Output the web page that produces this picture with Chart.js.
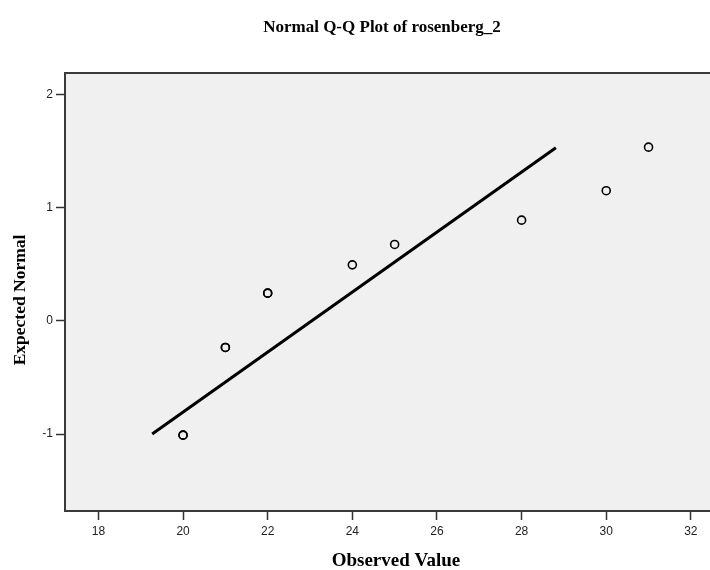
<!DOCTYPE html>
<html>
<head>
<meta charset="utf-8">
<script src="https://cdn.jsdelivr.net/npm/chart.js@4/dist/chart.umd.min.js"></script>
<style>
  html, body { margin: 0; padding: 0; background: #ffffff; }
  #wrap { width: 710px; height: 570px; }
</style>
</head>
<body>
<div id="wrap"><canvas id="c" width="710" height="570"></canvas></div>
<script>
// ---- data ----
const chartTitle = "Normal Q-Q Plot of rosenberg_2";
const xTitle = "Observed Value";
const yTitle = "Expected Normal";
const observed = [20, 20, 21, 21, 22, 22, 24, 25, 28, 30, 31];
const expectedNormal = [-1.01, -1.01, -0.235, -0.235, 0.245, 0.245, 0.495, 0.675, 0.89, 1.15, 1.535];
const lineX = [19.27, 28.81];
const lineY = [-1.0, 1.53];
const xTicks = [18, 20, 22, 24, 26, 28, 30, 32];
const yTicks = [-1, 0, 1, 2];
const xRange = [17.21, 32.32];
const yRange = [-1.68, 2.19];

const pointsData = observed.map((v, i) => ({ x: v, y: expectedNormal[i] }));
const lineData = lineX.map((v, i) => ({ x: v, y: lineY[i] }));

const frame = {
  id: 'frame',
  beforeDatasetsDraw(chart) {
    const { ctx, chartArea: a } = chart;
    ctx.save();
    ctx.fillStyle = '#f0f0f0';
    ctx.fillRect(a.left, a.top, chart.width - a.left + 5, a.bottom - a.top);
    ctx.restore();
  },
  afterDraw(chart) {
    const { ctx, chartArea: a } = chart;
    ctx.save();
    ctx.strokeStyle = '#3a3a3a';
    ctx.lineWidth = 2;
    ctx.strokeRect(a.left, a.top, chart.width - a.left + 20, a.bottom - a.top);
    ctx.fillStyle = '#000';
    ctx.textAlign = 'center';
    ctx.textBaseline = 'middle';
    ctx.font = 'bold 17px "Liberation Serif"';
    ctx.fillText(chartTitle, 382, 28);
    ctx.font = 'bold 19px "Liberation Serif"';
    ctx.fillText(xTitle, 396, 561);
    ctx.font = 'bold 17.5px "Liberation Serif"';
    ctx.translate(20, 300);
    ctx.rotate(-Math.PI / 2);
    ctx.fillText(yTitle, 0, 0);
    ctx.restore();
  }
};

new Chart(document.getElementById('c'), {
  type: 'scatter',
  data: {
    datasets: [
      {
        type: 'line',
        data: lineData,
        borderColor: '#000',
        borderWidth: 3,
        pointRadius: 0,
        fill: false,
        tension: 0
      },
      {
        data: pointsData,
        pointRadius: 4,
        pointBorderWidth: 1.6,
        pointBorderColor: '#000',
        pointBackgroundColor: 'rgba(0,0,0,0)',
        showLine: false
      }
    ]
  },
  options: {
    responsive: false,
    animation: false,
    devicePixelRatio: 1,
    layout: { padding: { top: 73, right: 0, bottom: 0, left: 0 } },
    plugins: { legend: { display: false }, tooltip: { enabled: false }, title: { display: false } },
    scales: {
      x: {
        type: 'linear',
        min: xRange[0],
        max: xRange[1],
        afterBuildTicks: s => { s.ticks = xTicks.map(v => ({ value: v })); },
        afterFit: s => { s.height = 59; },
        grid: { drawOnChartArea: false, drawTicks: true, tickLength: 9, tickColor: '#333', tickWidth: 1.5 },
        border: { display: false },
        ticks: { color: '#222', font: { family: '"Liberation Sans"', size: 12 }, padding: 4, maxRotation: 0 }
      },
      y: {
        type: 'linear',
        min: yRange[0],
        max: yRange[1],
        afterBuildTicks: s => { s.ticks = yTicks.map(v => ({ value: v })); },
        afterFit: s => { s.width = 65; },
        grid: { drawOnChartArea: false, drawTicks: true, tickLength: 9, tickColor: '#333', tickWidth: 1.5 },
        border: { display: false },
        ticks: { color: '#222', font: { family: '"Liberation Sans"', size: 12 }, padding: 3 }
      }
    }
  },
  plugins: [frame]
});
</script>
</body>
</html>
